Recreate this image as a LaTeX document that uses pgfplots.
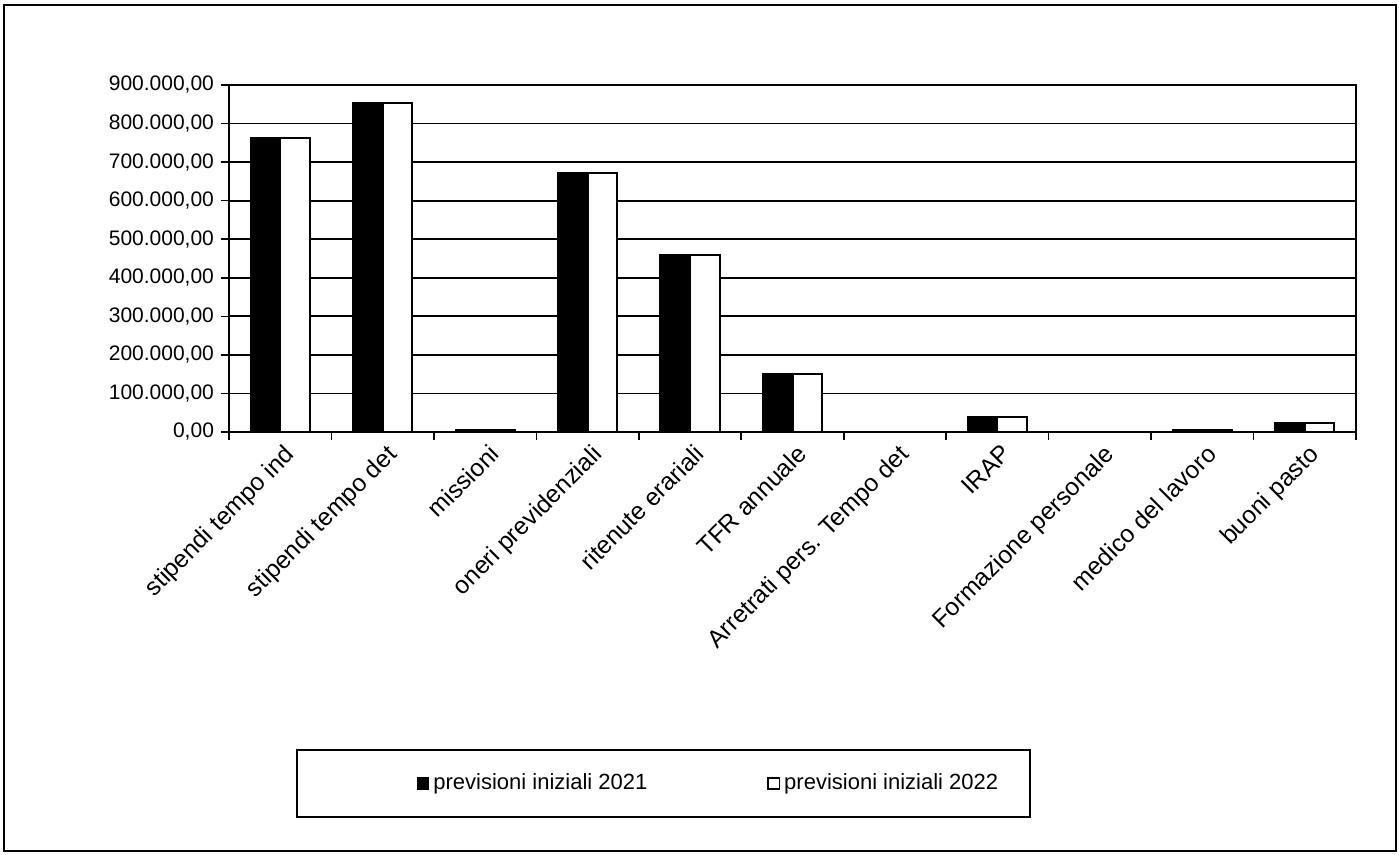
\documentclass[border=0pt]{standalone}
\usepackage{fontspec}
\setmainfont{Liberation Sans}
\usepackage{pgfplots}
\pgfplotsset{compat=1.18}
\newcommand{\lbl}{\fontsize{10.5pt}{12pt}\selectfont}
\newcommand{\xlbl}{\fontsize{12.3pt}{14pt}\selectfont}
\newcommand{\leglbl}{\fontsize{11pt}{13pt}\selectfont}
\begin{document}
\begin{tikzpicture}
\path (0,0) rectangle (699.5pt,427.5pt);
\draw[line width=0.8pt] (2pt,2pt) rectangle (698pt,425pt);
\draw[line width=0.8pt] (148.5pt,19pt) rectangle (515pt,52.5pt);
\begin{axis}[
  at={(114.5pt,211.5pt)}, anchor=south west,
  scale only axis, width=563.5pt, height=173.5pt,
  xmin=-0.5, xmax=10.5, ymin=0, ymax=900000,
  ybar=0pt, bar width=14.8pt,
  xtick={-0.5,0.5,...,10.5}, x tick label as interval,
  xticklabels={stipendi tempo ind,stipendi tempo det,missioni,oneri previdenziali,ritenute erariali,TFR annuale,Arretrati pers. Tempo det,IRAP,Formazione personale,medico del lavoro,buoni pasto},
  xticklabel style={rotate=45, anchor=north east, font=\xlbl, inner sep=1pt, xshift=1pt, yshift=-1pt},
  ytick={0,100000,...,900000},
  scaled y ticks=false,
  yticklabels={{0,00},{100.000,00},{200.000,00},{300.000,00},{400.000,00},{500.000,00},{600.000,00},{700.000,00},{800.000,00},{900.000,00}},
  yticklabel style={font=\lbl},
  ymajorgrids, grid style={black, line width=0.9pt},
  tick align=outside, major tick length=4pt,
  xtick pos=left, ytick pos=left,
  axis line style={line width=1pt},
  tick style={black, line width=0.8pt},
  legend style={at={(0.4263,-1.013)}, anchor=center, draw=none, fill=none, font=\leglbl,
    legend columns=2, /tikz/every even column/.append style={column sep=58pt}},
  legend image code/.code={\draw[#1,/tikz/.cd,line width=0.8pt] (0pt,-2.8pt) rectangle (5.6pt,2.8pt);},
]
\addplot[fill=black, draw=black, line width=1pt] coordinates {
 (0,762000) (1,853000) (2,4000) (3,671000) (4,458000) (5,150000) (6,0) (7,40000) (8,1000) (9,4000) (10,23000)};
\addplot[fill=white, draw=black, line width=1pt] coordinates {
 (0,762000) (1,853000) (2,4000) (3,671000) (4,458000) (5,150000) (6,0) (7,40000) (8,1000) (9,4000) (10,23000)};
\legend{previsioni iniziali 2021, previsioni iniziali 2022}
\end{axis}
\end{tikzpicture}
\end{document}
